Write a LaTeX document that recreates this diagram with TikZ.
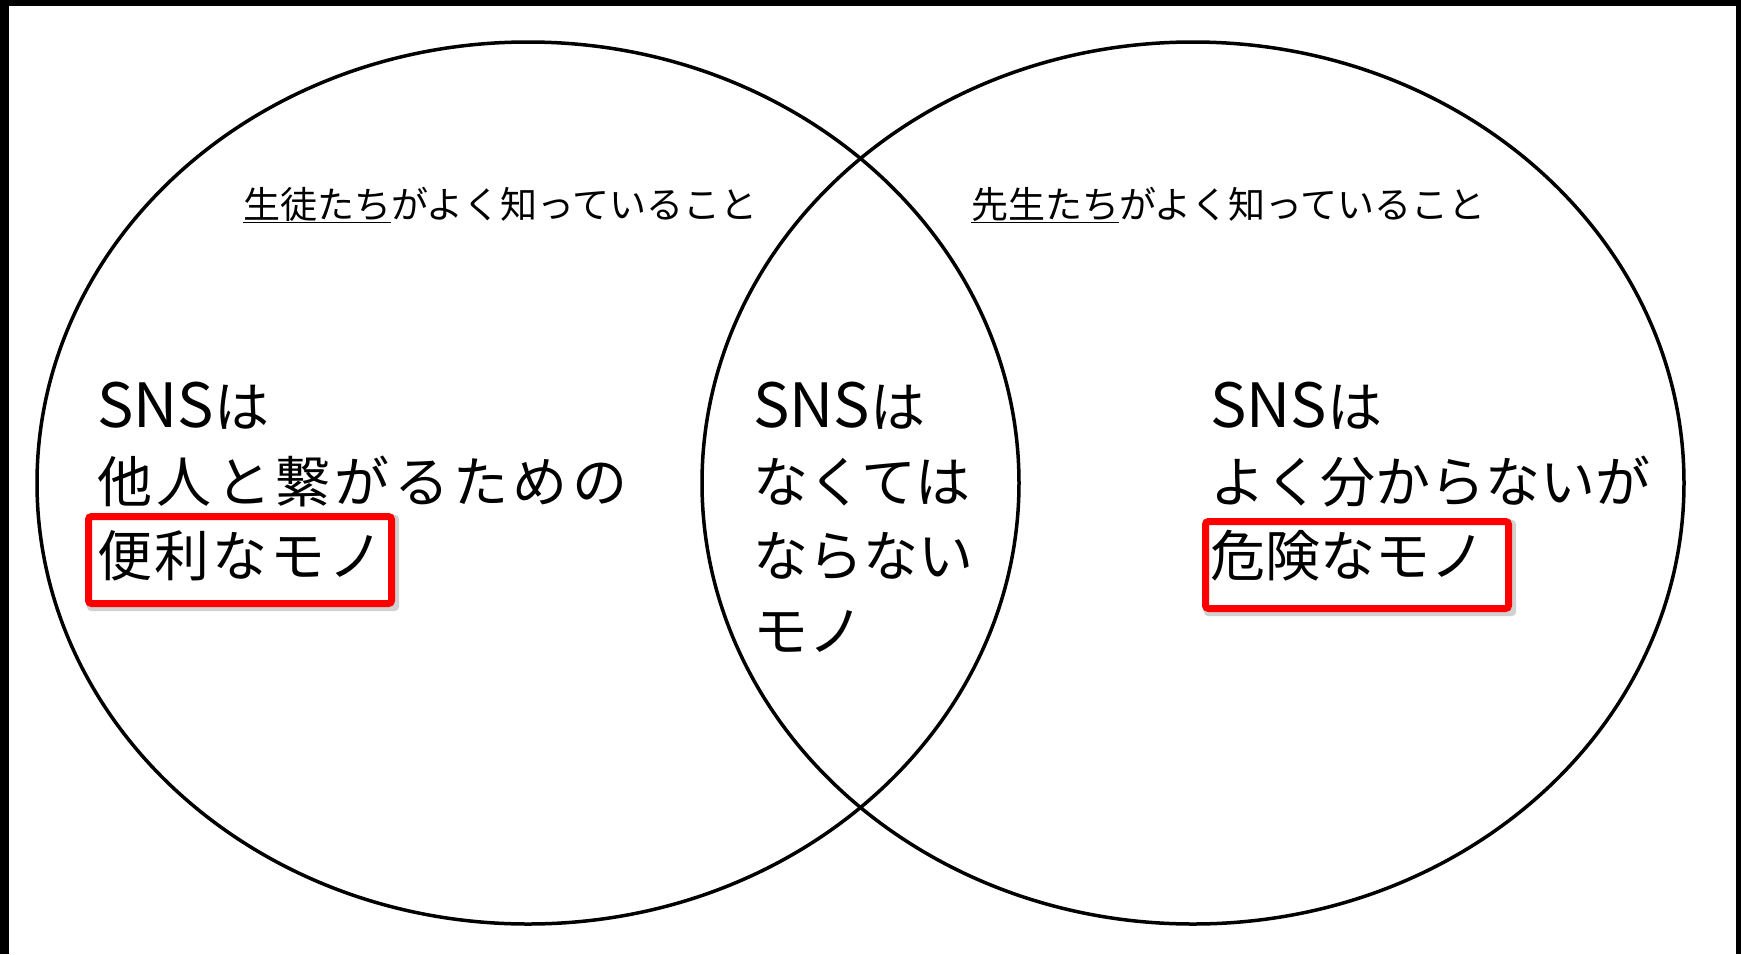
\documentclass[tikz,border=0pt]{standalone}
\usepackage{fontspec}
\newfontfamily\jp{Noto Sans CJK JP}
\usetikzlibrary{shapes.geometric}
\newcommand{\sns}{{\fontsize{61pt}{75pt}\selectfont SNS}}
\begin{document}
\begin{tikzpicture}[x=1pt,y=-1pt,
  venn/.style={draw=black,line width=3.5pt,ellipse,minimum width=982pt,minimum height=882pt,inner sep=0pt},
  small/.style={inner sep=0pt,anchor=base west,font=\jp\fontsize{37pt}{40pt}\selectfont},
  big/.style={inner sep=0pt,anchor=base west,font=\jp\fontsize{55pt}{75pt}\selectfont},
  redbox/.style={draw=red,line width=7pt,rounded corners=3pt,minimum width=303pt,minimum height=87pt,inner sep=0pt},
  shadowbox/.style={fill=black,opacity=0.18,rounded corners=4pt,minimum width=312pt,minimum height=96pt,inner sep=0pt}]
\useasboundingbox (0,0) rectangle (1741,954);
\fill[black] (0,0) rectangle (1741,954);
\fill[white] (9,6) rectangle (1736,954);
% circles
\node[venn] (L) at (528,483) {};
\node[venn] (R) at (1193,483) {};
% top labels
\node[small] (tl) at (243,218) {\underline{生徒たち}がよく知っていること};
\node[small] (tr) at (971,218) {\underline{先生たち}がよく知っていること};
% red boxes
\node[shadowbox] (s1) at (243,563) {};
\node[shadowbox] (s2) at (1360,568) {};
\fill[white] (91,516) rectangle (389,604);
\fill[white] (1208,521) rectangle (1506,609);
\node[redbox] (b1) at (240,560) {};
\node[redbox] (b2) at (1357,565) {};
% left text
\node[big] (l1) at (97,427) {\sns は};
\node[big] (l2) at (97,502) {\addfontfeature{LetterSpace=8}他人と繋がるための};
\node[big] (l3) at (97,576) {\addfontfeature{LetterSpace=5}便利なモノ};
% middle text
\node[big] (m1) at (753,427) {\sns は};
\node[big] (m2) at (753,502) {なくては};
\node[big] (m3) at (753,576) {ならない};
\node[big] (m4) at (753,651) {モノ};
% right text
\node[big] (r1) at (1210,427) {\sns は};
\node[big] (r2) at (1210,502) {よく分からないが};
\node[big] (r3) at (1210,576) {危険なモノ};
\end{tikzpicture}
\end{document}
